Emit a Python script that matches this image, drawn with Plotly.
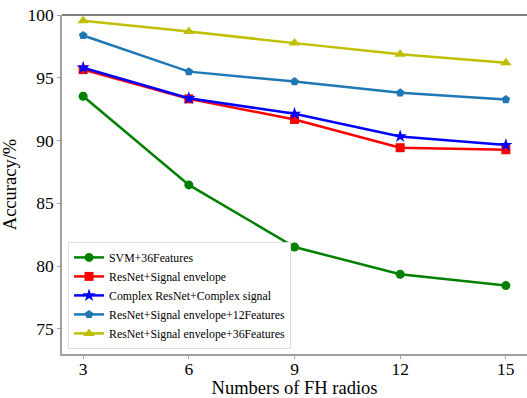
import plotly.graph_objects as go

radios = [3, 6, 9, 12, 15]
svm_36 = [93.53, 86.47, 81.52, 79.35, 78.45]
resnet_env = [95.65, 93.32, 91.68, 89.43, 89.27]
cplx_resnet = [95.8, 93.37, 92.13, 90.33, 89.64]
resnet_env_12 = [98.37, 95.49, 94.7, 93.8, 93.27]
resnet_env_36 = [99.54, 98.69, 97.76, 96.87, 96.2]

series = [
    ("SVM+36Features", svm_36, "#008000", "circle", 9),
    ("ResNet+Signal envelope", resnet_env, "#ff0000", "square", 9),
    ("Complex ResNet+Complex signal", cplx_resnet, "#0000ff", "star", 10),
    ("ResNet+Signal envelope+12Features", resnet_env_12, "#1f77b4", "pentagon", 9),
    ("ResNet+Signal envelope+36Features", resnet_env_36, "#bfbf00", "triangle-up", 10),
]

fig = go.Figure()
for name, vals, color, sym, size in series:
    fig.add_trace(go.Scatter(
        x=radios, y=vals, name=name, mode="lines+markers",
        line=dict(color=color, width=2.5),
        marker=dict(symbol=sym, size=size, color=color),
    ))

serif = "Liberation Serif, Times New Roman, serif"

# darker top frame line
fig.add_shape(type="line", xref="paper", yref="paper", x0=0, x1=1, y0=1, y1=1,
              line=dict(color="#555555", width=1.5))

fig.update_layout(
    width=527, height=398,
    margin=dict(l=62, r=0, t=15, b=44),
    paper_bgcolor="white", plot_bgcolor="white",
    font=dict(family=serif, color="black"),
    showlegend=True,
    legend=dict(
        x=0.013, y=0.015, xanchor="left", yanchor="bottom",
        bgcolor="white", bordercolor="#dddddd", borderwidth=1,
        font=dict(size=11.8, family=serif), itemwidth=30,
        tracegroupgap=0,
    ),
    xaxis=dict(
        range=[2.4, 15.6], tickvals=radios, showgrid=False, zeroline=False,
        showline=True, linecolor="#a0a0a0", linewidth=1.5,
        ticks="outside", ticklen=3, tickcolor="#a0a0a0",
        ticklabelstandoff=-5,
        tickfont=dict(size=17.5, family=serif), automargin=False,
        title=dict(text="Numbers of FH radios",
                   font=dict(size=18.5, family=serif), standoff=4),
    ),
    yaxis=dict(
        range=[73, 100], tickvals=[75, 80, 85, 90, 95, 100], showgrid=False,
        zeroline=False, showline=True, linecolor="#a0a0a0", linewidth=1.5,
        ticks="outside", ticklen=3, tickcolor="#a0a0a0",
        tickfont=dict(size=17.5, family=serif), automargin=False,
        title=dict(text="Accuracy/%", font=dict(size=18.5, family=serif),
                   standoff=6),
    ),
)

fig.write_html("out.html")
